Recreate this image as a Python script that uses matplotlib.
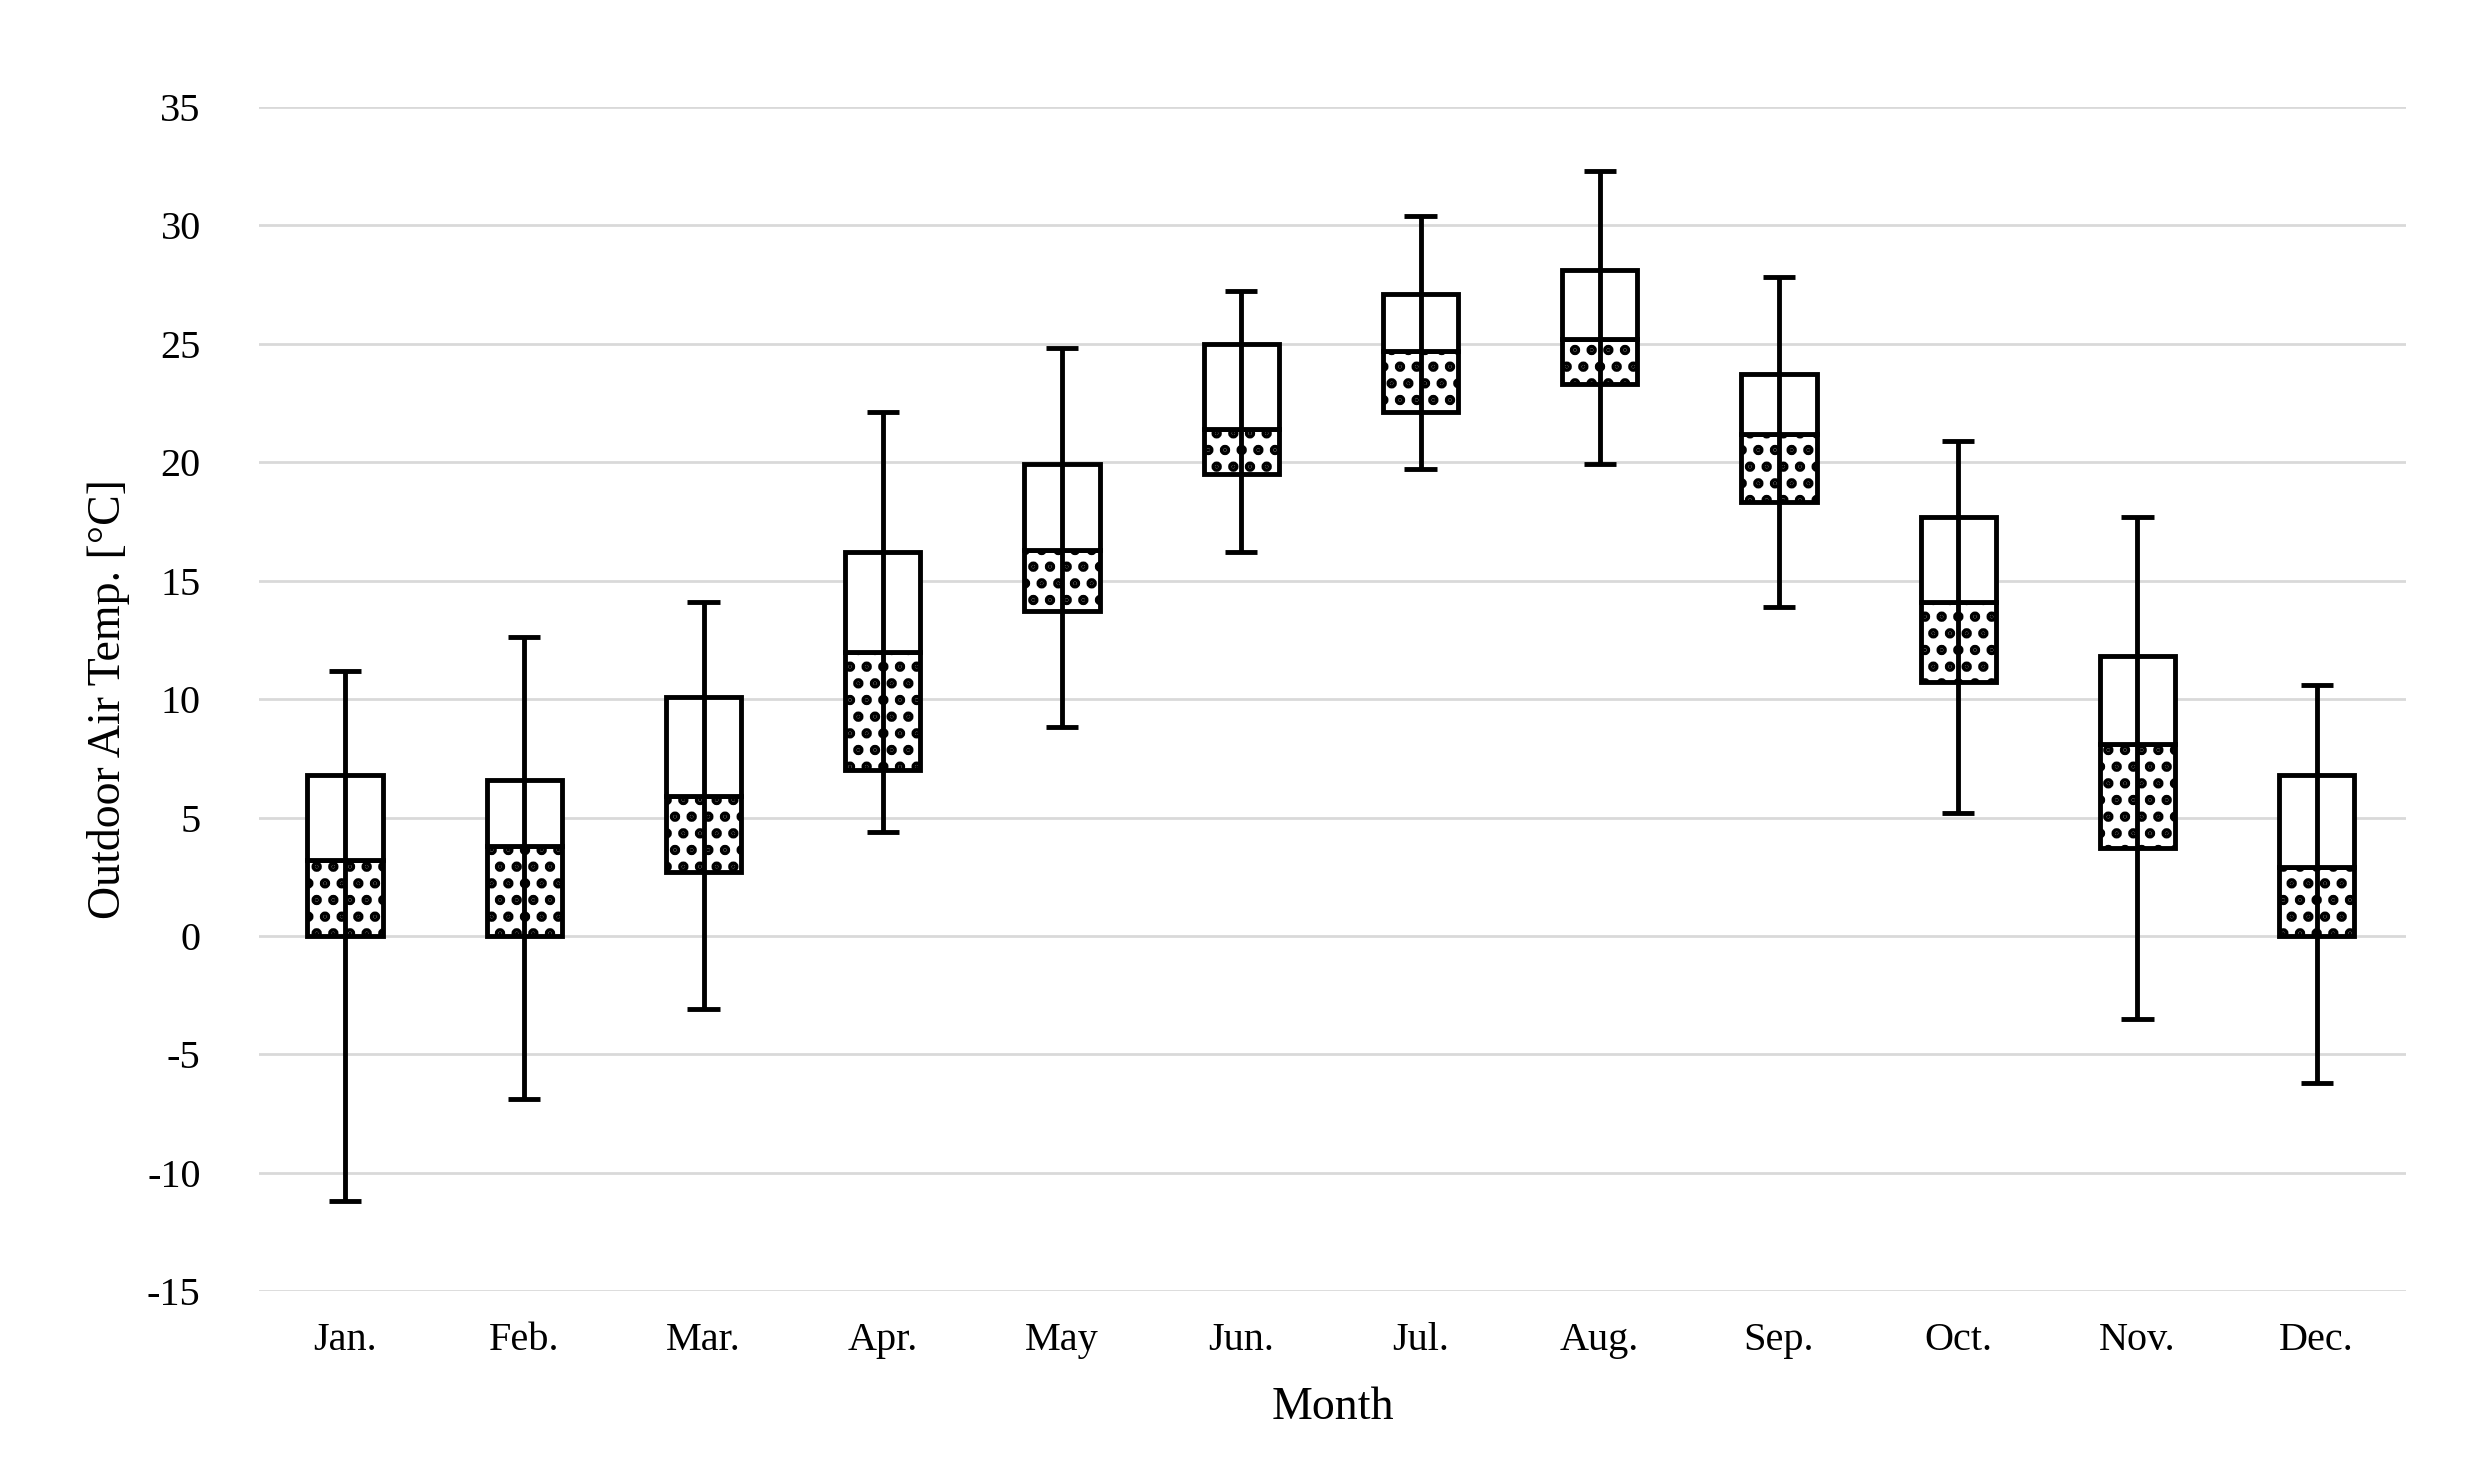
import matplotlib.pyplot as plt
import numpy as np

plt.rcParams['font.family'] = ['Liberation Serif', 'DejaVu Serif']
plt.rcParams['axes.unicode_minus'] = False
plt.rcParams['hatch.linewidth'] = 5.0

months = ['Jan.', 'Feb.', 'Mar.', 'Apr.', 'May', 'Jun.', 'Jul.', 'Aug.', 'Sep.', 'Oct.', 'Nov.', 'Dec.']
t_min = [-11.2, -6.9, -3.1, 4.4, 8.8, 16.2, 19.7, 19.9, 13.9, 5.2, -3.5, -6.2]
q1 = [0.0, 0.0, 2.7, 7.0, 13.7, 19.5, 22.1, 23.3, 18.3, 10.7, 3.7, 0.0]
median = [3.2, 3.8, 5.9, 12.0, 16.3, 21.4, 24.7, 25.2, 21.2, 14.1, 8.1, 2.9]
q3 = [6.8, 6.6, 10.1, 16.2, 19.9, 25.0, 27.1, 28.1, 23.7, 17.7, 11.8, 6.8]
t_max = [11.2, 12.6, 14.1, 22.1, 24.8, 27.2, 30.4, 32.3, 27.8, 20.9, 17.7, 10.6]

x = np.arange(len(months))
q1 = np.array(q1)
median = np.array(median)
q3 = np.array(q3)

fig, ax = plt.subplots(figsize=(24.91, 14.81), dpi=100)
fig.subplots_adjust(left=0.104, right=0.966, top=0.928, bottom=0.128)

w = 0.42
ax.bar(x, median - q1, w, bottom=q1, color='white', edgecolor='black',
       hatch='.', linewidth=3.5, zorder=2)
ax.bar(x, q3 - median, w, bottom=median, color='white', edgecolor='black',
       linewidth=3.5, zorder=2)
ax.vlines(x, t_min, t_max, color='black', linewidth=3.5, zorder=3)
ax.hlines(t_min, x - 0.09, x + 0.09, color='black', linewidth=3.5, zorder=3)
ax.hlines(t_max, x - 0.09, x + 0.09, color='black', linewidth=3.5, zorder=3)

ax.set_xlim(-0.48, 11.5)
ax.set_ylim(-15, 35)
ax.set_yticks(np.arange(-15, 36, 5))
ax.set_xticks(x)
ax.set_xticklabels(months)
ax.grid(axis='y', color='#d9d9d9', linewidth=2)
ax.set_axisbelow(True)
for s in ax.spines.values():
    s.set_visible(False)
ax.tick_params(length=0, labelsize=29)
ax.tick_params(axis='y', pad=42)
ax.tick_params(axis='x', pad=22)

ax.set_ylabel('Outdoor Air Temp. [°C]', fontsize=33, labelpad=12)
ax.set_xlabel('Month', fontsize=33, labelpad=20)

plt.savefig('out.png')
